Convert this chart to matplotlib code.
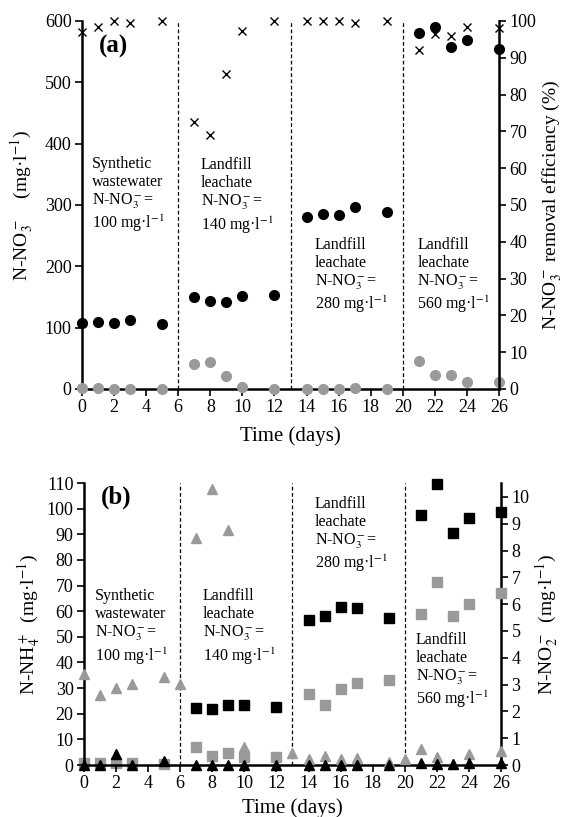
import matplotlib
matplotlib.use("Agg")
import matplotlib.pyplot as plt

plt.rcParams['font.family'] = ['Liberation Serif', 'DejaVu Serif']
plt.rcParams['mathtext.fontset'] = 'stix'

# ---------- Panel (a) data ----------
days_a = [0, 1, 2, 3, 5, 7, 8, 9, 10, 12, 14, 15, 16, 17, 19, 21, 22, 23, 24, 26]
no3_in = [107, 109, 107, 112, 106, 150, 144, 142, 151, 154,
          281, 286, 284, 296, 289, 580, 590, 558, 569, 555]
no3_out = [2, 1, 0, 0, 0, 41, 44, 21, 4, 0,
           0, 0, 0, 1, 0, 46, 22, 23, 11, 11]
removal = [97, 98.4, 100, 99.5, 100, 72.5, 69.1, 85.6, 97.3, 100,
           100, 100, 100, 99.5, 100, 92.1, 96.5, 96, 98.5, 98]

# ---------- Panel (b) data ----------
days_nh4_g = [0, 1, 2, 3, 5, 6, 7, 8, 9, 10, 13, 14, 15, 16, 17, 19, 20, 21, 22, 23, 24, 26]
nh4_gray = [35.5, 27.3, 30, 31.6, 34.5, 31.6, 88.5, 107.8, 91.5, 7.2, 4.8,
            2.2, 3.4, 2.3, 2.9, 1.3, 2.2, 6.4, 3.0, 0.5, 4.4, 5.5]
days_nh4_k = [0, 1, 2, 3, 5, 7, 8, 9, 10, 12, 14, 15, 16, 17, 19, 21, 22, 23, 24, 26]
nh4_black = [0, 0, 4.2, 0, 1.5, 0, 0, 0, 0, 0,
             0, 0, 0, 0, 0, 0.8, 0.5, 0.3, 0.8, 0.8]
days_no2 = [0, 1, 2, 3, 5, 7, 8, 9, 10, 12, 14, 15, 16, 17, 19, 21, 22, 23, 24, 26]
no2_gray = [0.06, 0.06, 0.06, 0.06, 0.03, 0.68, 0.35, 0.46, 0.29, 0.29,
            2.66, 2.24, 2.84, 3.06, 3.17, 5.62, 6.82, 5.56, 6.0, 6.43]
days_no2_k = [7, 8, 9, 10, 12, 14, 15, 16, 17, 19, 21, 22, 23, 24, 26]
no2_black = [2.14, 2.08, 2.24, 2.24, 2.18, 5.41, 5.56, 5.88, 5.85, 5.5,
             9.33, 10.47, 8.65, 9.23, 9.45]

phase_bounds = [6, 13, 20]
xticks = list(range(0, 27, 2))

GRAY = '#9a9a9a'
FS_TICK = 13
FS_TXT = 11.5
FS_LAB = 14

fig = plt.figure(figsize=(5.64, 8.17), dpi=100)


def style_axes(ax, ax2, xlabelpad):
    for a in (ax, ax2):
        a.spines['top'].set_visible(False)
        for s in ('left', 'right', 'bottom'):
            a.spines[s].set_linewidth(1.8)
        a.tick_params(width=1.2, length=5, labelsize=FS_TICK, direction='out', pad=2.5)
    ax.spines['right'].set_visible(False)
    ax2.spines['left'].set_visible(False)
    ax2.spines['bottom'].set_visible(False)
    ax.set_xlim(0, 26)
    ax.set_xticks(xticks)
    ax.set_xlabel('Time (days)', fontsize=15, labelpad=xlabelpad)
    for b in phase_bounds:
        ax.axvline(b, color='black', lw=0.9, ls=(0, (3, 2)), zorder=1)


txt_kw = dict(fontsize=FS_TXT, va='top', ha='left', linespacing=1.15)

# ---------- Panel (a) ----------
axa = fig.add_axes([0.1454, 0.5239, 0.7394, 0.4504])
axa2 = axa.twinx()
style_axes(axa, axa2, 7)
axa.set_ylim(0, 600)
axa.set_yticks(range(0, 601, 100))
axa2.set_ylim(0, 100)
axa2.set_yticks(range(0, 101, 10))
axa.plot(days_a, no3_in, 'o', color='black', ms=7, clip_on=False, zorder=5)
axa.plot(days_a, no3_out, 'o', color=GRAY, ms=7, clip_on=False, zorder=5)
axa2.plot(days_a, removal, 'x', color='black', ms=6, mew=1.0, clip_on=False, zorder=6)
axa.set_ylabel(r'N-NO$_3^-$    (mg·l$^{-1}$)', fontsize=FS_LAB, labelpad=6)
axa2.set_ylabel(r'N-NO$_3^-$ removal efficiency (%)', fontsize=FS_LAB, labelpad=3)
axa.text(1.05, 578, '(a)', fontsize=18, fontweight='bold', va='top', ha='left')
axa.text(0.6, 380, 'Synthetic\nwastewater\nN-NO$_3^-$=\n100 mg·l$^{-1}$', **txt_kw)
axa.text(7.4, 378, 'Landfill\nleachate\nN-NO$_3^-$=\n140 mg·l$^{-1}$', **txt_kw)
axa.text(14.5, 248, 'Landfill\nleachate\nN-NO$_3^-$=\n280 mg·l$^{-1}$', **txt_kw)
axa.text(20.9, 248, 'Landfill\nleachate\nN-NO$_3^-$=\n560 mg·l$^{-1}$', **txt_kw)

# ---------- Panel (b) ----------
axb = fig.add_axes([0.1489, 0.0636, 0.7394, 0.3452])
axb2 = axb.twinx()
style_axes(axb, axb2, 4)
axb.set_ylim(0, 110)
axb.set_yticks(range(0, 111, 10))
axb2.set_ylim(0, 10.52)
axb2.set_yticks(range(0, 11, 1))
axb2.plot(days_no2, no2_gray, 's', color=GRAY, ms=6.5, clip_on=False, zorder=5)
axb2.plot(days_no2_k, no2_black, 's', color='black', ms=6.5, clip_on=False, zorder=5)
axb.plot(days_nh4_g, nh4_gray, '^', color=GRAY, ms=6.5, clip_on=False, zorder=5)
axb.plot(days_nh4_k, nh4_black, '^', color='black', ms=6.5, clip_on=False, zorder=6)
axb.set_zorder(axb2.get_zorder() + 1)
axb.patch.set_visible(False)
axb.set_ylabel(r'N-NH$_4^+$  (mg·l$^{-1}$)', fontsize=FS_LAB, labelpad=3)
axb2.set_ylabel(r'N-NO$_2^-$  (mg·l$^{-1}$)', fontsize=FS_LAB, labelpad=3)
axb.text(1.05, 109, '(b)', fontsize=18, fontweight='bold', va='top', ha='left')
axb.text(0.7, 69, 'Synthetic\nwastewater\nN-NO$_3^-$=\n100 mg·l$^{-1}$', **txt_kw)
axb.text(7.4, 69, 'Landfill\nleachate\nN-NO$_3^-$=\n140 mg·l$^{-1}$', **txt_kw)
axb.text(14.4, 105, 'Landfill\nleachate\nN-NO$_3^-$=\n280 mg·l$^{-1}$', **txt_kw)
axb.text(20.7, 52, 'Landfill\nleachate\nN-NO$_3^-$=\n560 mg·l$^{-1}$', **txt_kw)

fig.savefig('out.png', dpi=100)
